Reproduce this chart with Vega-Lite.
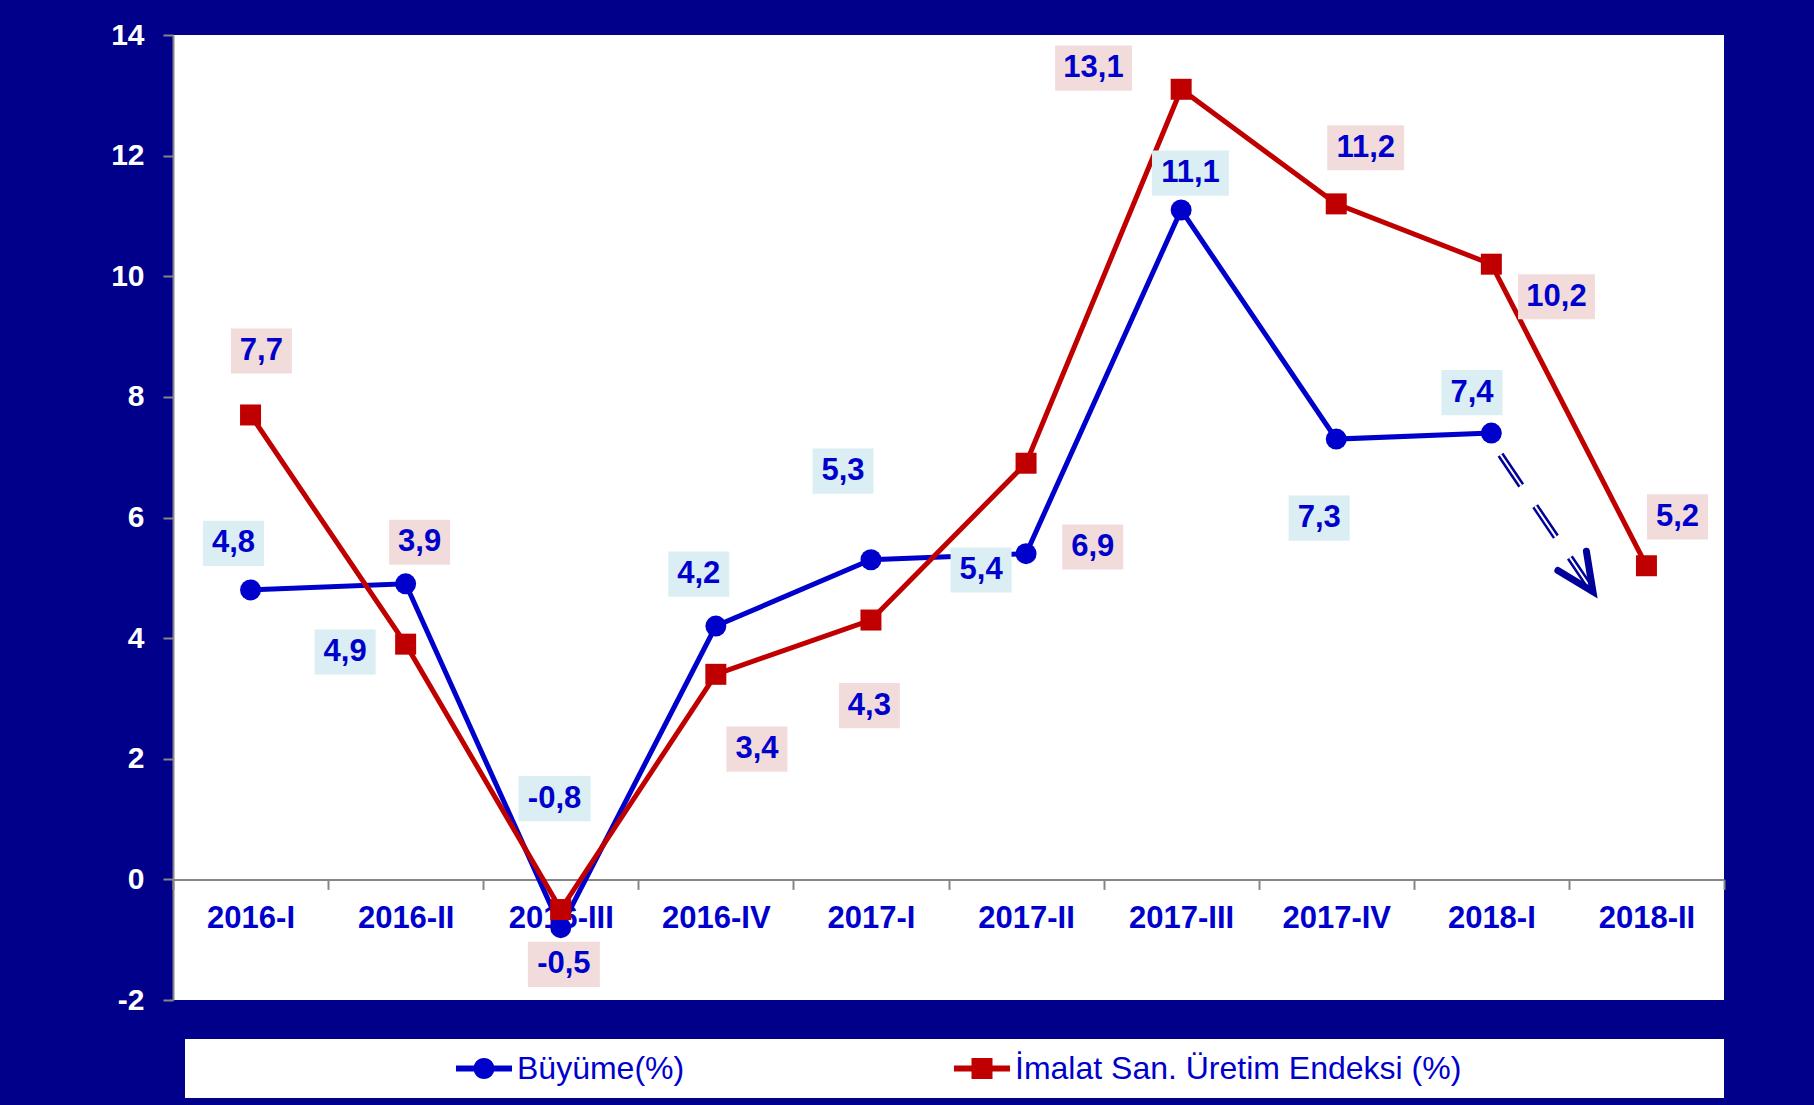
{
  "$schema": "https://vega.github.io/schema/vega-lite/v6.json",
  "width": 1551,
  "height": 965,
  "autosize": {"type": "none"},
  "padding": {"left": 173, "top": 35, "right": 90, "bottom": 105},
  "background": "#00008A",
  "config": {
    "view": {"fill": "white", "stroke": null},
    "locale": {"number": {"decimal": ",", "thousands": ".", "grouping": [3], "currency": ["", ""], "minus": "-"}},
    "axis": {
      "labelFont": "Liberation Sans",
      "labelFontWeight": "bold",
      "domainColor": "#868686",
      "domainWidth": 2,
      "tickColor": "#868686",
      "tickWidth": 2,
      "tickSize": 10,
      "grid": false
    }
  },
  "datasets": {
    "main": [
      {"series": "Büyüme(%)", "period": "2016-I", "value": 4.8, "label_at": 5.57, "shift": -0.11},
      {"series": "Büyüme(%)", "period": "2016-II", "value": 4.9, "label_at": 3.77, "shift": -0.39},
      {"series": "Büyüme(%)", "period": "2016-III", "value": -0.8, "label_at": 1.34, "shift": -0.04},
      {"series": "Büyüme(%)", "period": "2016-IV", "value": 4.2, "label_at": 5.06, "shift": -0.11},
      {"series": "Büyüme(%)", "period": "2017-I", "value": 5.3, "label_at": 6.77, "shift": -0.18},
      {"series": "Büyüme(%)", "period": "2017-II", "value": 5.4, "label_at": 5.13, "shift": -0.29},
      {"series": "Büyüme(%)", "period": "2017-III", "value": 11.1, "label_at": 11.71, "shift": 0.06},
      {"series": "Büyüme(%)", "period": "2017-IV", "value": 7.3, "label_at": 5.99, "shift": -0.11},
      {"series": "Büyüme(%)", "period": "2018-I", "value": 7.4, "label_at": 8.07, "shift": -0.125},
      {"series": "İmalat San. Üretim Endeksi (%)", "period": "2016-I", "value": 7.7, "label_at": 8.76, "shift": 0.07},
      {"series": "İmalat San. Üretim Endeksi (%)", "period": "2016-II", "value": 3.9, "label_at": 5.59, "shift": 0.09},
      {"series": "İmalat San. Üretim Endeksi (%)", "period": "2016-III", "value": -0.5, "label_at": -1.41, "shift": 0.02},
      {"series": "İmalat San. Üretim Endeksi (%)", "period": "2016-IV", "value": 3.4, "label_at": 2.16, "shift": 0.265},
      {"series": "İmalat San. Üretim Endeksi (%)", "period": "2017-I", "value": 4.3, "label_at": 2.88, "shift": -0.01},
      {"series": "İmalat San. Üretim Endeksi (%)", "period": "2017-II", "value": 6.9, "label_at": 5.51, "shift": 0.43},
      {"series": "İmalat San. Üretim Endeksi (%)", "period": "2017-III", "value": 13.1, "label_at": 13.45, "shift": -0.565},
      {"series": "İmalat San. Üretim Endeksi (%)", "period": "2017-IV", "value": 11.2, "label_at": 12.13, "shift": 0.19},
      {"series": "İmalat San. Üretim Endeksi (%)", "period": "2018-I", "value": 10.2, "label_at": 9.66, "shift": 0.42},
      {"series": "İmalat San. Üretim Endeksi (%)", "period": "2018-II", "value": 5.2, "label_at": 6.01, "shift": 0.2}
    ],
    "arrow": [
      {"part": "start", "period": "2018-I", "shift": 0.059, "value": 7.04},
      {"part": "tip", "period": "2018-II", "shift": -0.345, "value": 4.77}
    ]
  },
  "encoding": {
    "x": {
      "field": "period",
      "type": "nominal",
      "sort": null,
      "scale": {
        "type": "band",
        "paddingInner": 0,
        "paddingOuter": 0,
        "domain": ["2016-I", "2016-II", "2016-III", "2016-IV", "2017-I", "2017-II", "2017-III", "2017-IV", "2018-I", "2018-II"]
      },
      "axis": {
        "title": null,
        "labelAngle": 0,
        "labelColor": "#0000CC",
        "labelFontSize": 31,
        "labelPadding": 14,
        "tickBand": "extent",
        "offset": -120.6
      }
    },
    "y": {
      "field": "value",
      "type": "quantitative",
      "scale": {"domain": [-2, 14], "nice": false, "zero": false},
      "axis": {"title": null, "values": [-2, 0, 2, 4, 6, 8, 10, 12, 14], "labelColor": "white", "labelFontSize": 30, "labelPadding": 19}
    }
  },
  "layer": [
    {
      "data": {"name": "arrow"},
      "mark": {"type": "line", "color": "#00009A", "strokeWidth": 7, "strokeDash": [37, 25], "strokeCap": "butt"},
      "encoding": {
        "xOffset": {"field": "shift", "type": "quantitative", "scale": {"domain": [-1, 1], "range": [-77.55, 232.65]}}
      }
    },
    {
      "data": {"name": "arrow"},
      "mark": {"type": "line", "color": "white", "strokeWidth": 2, "strokeDash": [37, 25], "strokeCap": "butt"},
      "encoding": {
        "xOffset": {"field": "shift", "type": "quantitative", "scale": {"domain": [-1, 1], "range": [-77.55, 232.65]}}
      }
    },
    {
      "data": {"name": "arrow"},
      "transform": [{"filter": "datum.part == 'tip'"}],
      "mark": {"type": "point", "filled": false, "stroke": "#00009A", "strokeWidth": 7, "strokeJoin": "miter", "strokeCap": "round", "opacity": 1, "size": 1600, "angle": 56, "shape": "M-1.86,-0.86L0,0L-1.86,0.86"},
      "encoding": {
        "xOffset": {"field": "shift", "type": "quantitative", "scale": {"domain": [-1, 1], "range": [-77.55, 232.65]}}
      }
    },
    {
      "data": {"name": "main"},
      "mark": {"type": "line", "strokeWidth": 5},
      "encoding": {
        "color": {
          "field": "series",
          "type": "nominal",
          "scale": {"domain": ["Büyüme(%)", "İmalat San. Üretim Endeksi (%)"], "range": ["#0000CC", "#C00000"]},
          "legend": {
            "orient": "none",
            "legendX": 12,
            "legendY": 1004,
            "direction": "horizontal",
            "fillColor": "white",
            "padding": 13.5,
            "title": " ",
            "titleOrient": "right",
            "titleFontSize": 1,
            "titlePadding": 249,
            "symbolSize": 441,
            "symbolOffset": 269.5,
            "symbolStrokeWidth": 0,
            "symbolOpacity": 1,
            "symbolType": {"expr": "datum.value == 'Büyüme(%)' ? 'M-2.67,-0.29H2.67V0.29H-2.67ZM1,0A1,1,0,1,1,-1,0A1,1,0,1,1,1,0Z' : 'M-2.67,-0.29H2.67V0.29H-2.67ZM-1,-1H1V1H-1Z'"},
            "labelFont": "Liberation Sans",
            "labelFontSize": 32,
            "labelColor": "#0000CC",
            "labelOffset": 17,
            "labelLimit": 900,
            "columnPadding": 12
          }
        }
      }
    },
    {
      "data": {"name": "main"},
      "mark": {"type": "point", "filled": true, "size": 441, "opacity": 1, "strokeWidth": 0, "shape": {"expr": "datum.series == 'Büyüme(%)' ? 'circle' : 'square'"}},
      "encoding": {
        "color": {
          "field": "series",
          "type": "nominal",
          "scale": {"domain": ["Büyüme(%)", "İmalat San. Üretim Endeksi (%)"], "range": ["#0000CC", "#C00000"]}
        }
      }
    },
    {
      "data": {"name": "main"},
      "mark": {
        "type": "point",
        "filled": true,
        "size": 3721,
        "opacity": 1,
        "strokeWidth": 0,
        "shape": {"expr": "datum.value < 0 ? 'M-1.18,-0.74H1.18V0.74H-1.18Z' : datum.value >= 10 ? 'M-1.26,-0.74H1.26V0.74H-1.26Z' : 'M-1,-0.74H1V0.74H-1Z'"}
      },
      "encoding": {
        "xOffset": {"field": "shift", "type": "quantitative", "scale": {"domain": [-1, 1], "range": [-77.55, 232.65]}},
        "y": {"field": "label_at", "type": "quantitative", "scale": {"domain": [-2, 14], "nice": false, "zero": false}, "axis": {"title": null, "values": [-2, 0, 2, 4, 6, 8, 10, 12, 14], "labelColor": "white", "labelFontSize": 30, "labelPadding": 19}},
        "fill": {
          "field": "series",
          "type": "nominal",
          "scale": {"domain": ["Büyüme(%)", "İmalat San. Üretim Endeksi (%)"], "range": ["#DAEEF3", "#F2DCDB"]},
          "legend": null
        }
      }
    },
    {
      "data": {"name": "main"},
      "mark": {"type": "text", "font": "Liberation Sans", "fontWeight": "bold", "fontSize": 31, "fill": "#0000CC", "align": "center", "baseline": "middle"},
      "encoding": {
        "xOffset": {"field": "shift", "type": "quantitative", "scale": {"domain": [-1, 1], "range": [-77.55, 232.65]}},
        "y": {"field": "label_at", "type": "quantitative", "scale": {"domain": [-2, 14], "nice": false, "zero": false}, "axis": {"title": null, "values": [-2, 0, 2, 4, 6, 8, 10, 12, 14], "labelColor": "white", "labelFontSize": 30, "labelPadding": 19}},
        "text": {"field": "value", "type": "quantitative", "format": ".1f"}
      }
    }
  ]
}
